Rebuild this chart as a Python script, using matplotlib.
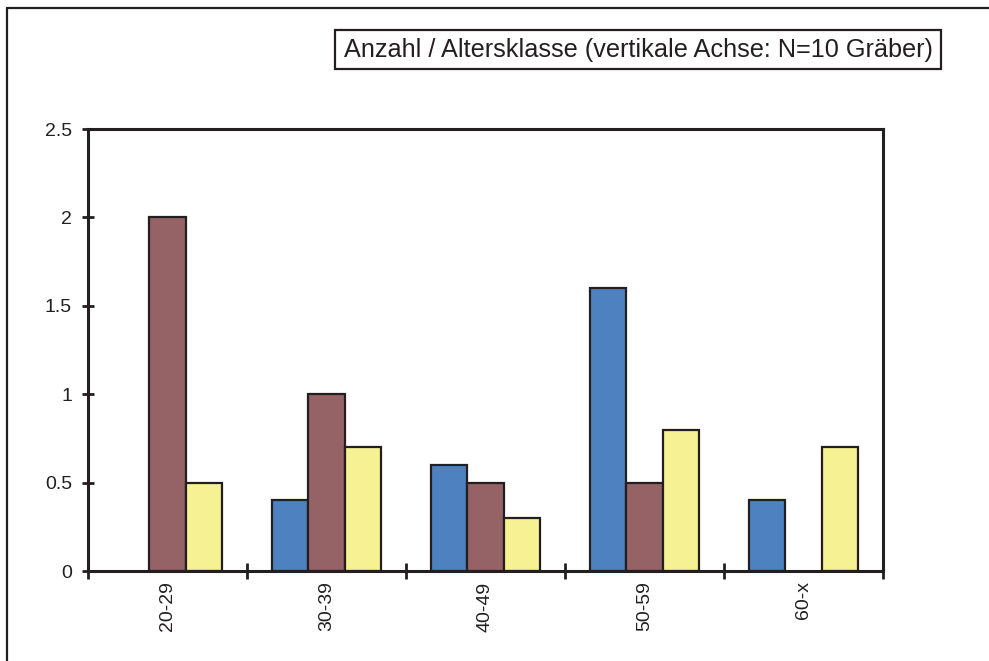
import matplotlib
matplotlib.use("Agg")
import matplotlib.pyplot as plt
from matplotlib.patches import Rectangle
import numpy as np

plt.rcParams['font.family'] = ['Liberation Sans', 'DejaVu Sans']

# Altersklassen und Anteile (N=10 Gräber)
klassen = ["20-29", "30-39", "40-49", "50-59", "60-x"]
serie_blau = [0, 0.4, 0.6, 1.6, 0.4]
serie_rot = [2.0, 1.0, 0.5, 0.5, 0]
serie_gelb = [0.5, 0.7, 0.3, 0.8, 0.7]
titel = "Anzahl / Altersklasse (vertikale Achse: N=10 Gräber)"

farben = ["#4d81c0", "#956265", "#f6f193"]
dunkel = "#231f20"

W, H = 989, 661
fig = plt.figure(figsize=(W / 100, H / 100), dpi=100)

# outer frame (runs off the right and bottom edge)
fig.patches.append(Rectangle((7 / W, -0.05), 1.1, 1 - 8 / H + 0.05,
                             transform=fig.transFigure, fill=False,
                             edgecolor=dunkel, linewidth=1.6))

# title box
fig.patches.append(Rectangle((335 / W, 1 - 69 / H), (941 - 335) / W, 39 / H,
                             transform=fig.transFigure, fill=False,
                             edgecolor=dunkel, linewidth=1.6))
fig.text(639 / W, 1 - 50 / H, titel, ha="center", va="center",
         fontsize=18.2, color=dunkel)

ax = fig.add_axes([88 / W, 1 - 571 / H, (883 - 88) / W, (571 - 129) / H])

x = np.arange(len(klassen)) + 0.5
breite = 0.23
for off, werte, farbe in zip([-breite, 0, breite],
                             [serie_blau, serie_rot, serie_gelb], farben):
    for xi, v in zip(x, werte):
        if v > 0:
            ax.bar(xi + off, v, width=breite, color=farbe,
                   edgecolor=dunkel, linewidth=1.6, zorder=2)

ax.set_xlim(0, len(klassen))
ax.set_ylim(0, 2.5)
ax.set_yticks([0, 0.5, 1, 1.5, 2, 2.5])
ax.set_yticklabels(["0", "0.5", "1", "1.5", "2", "2.5"])
ax.set_xticks(np.arange(len(klassen) + 1))
ax.set_xticklabels([])
ax.set_xticks(x, minor=True)
ax.set_xticklabels(klassen, minor=True, rotation=90, va="top", ha="center")

ax.tick_params(axis="y", which="major", direction="inout", length=9,
               width=2, color=dunkel, labelsize=14, pad=7, labelcolor=dunkel)
ax.tick_params(axis="x", which="major", direction="inout", length=12,
               width=2, color=dunkel)
ax.tick_params(axis="x", which="minor", length=0, labelsize=14, pad=7.5,
               labelcolor=dunkel)

for s in ax.spines.values():
    s.set_linewidth(2.2)
    s.set_color(dunkel)
    s.set_zorder(3)

fig.savefig("out.png", dpi=100)
